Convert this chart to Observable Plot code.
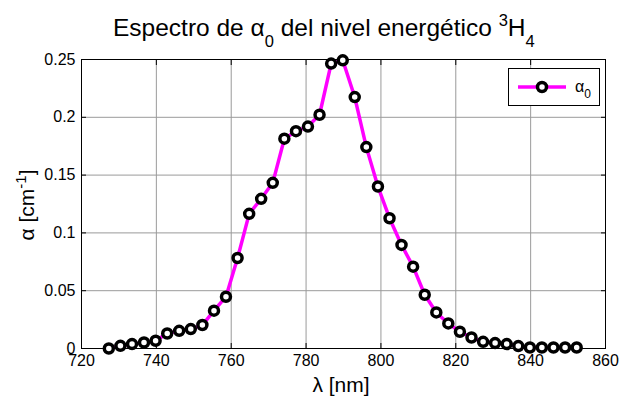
<!DOCTYPE html>
<html><head><meta charset="utf-8">
<script src="https://cdn.jsdelivr.net/npm/d3@7"></script>
<script src="https://cdn.jsdelivr.net/npm/@observablehq/plot@0.6"></script>
<style>
body{margin:0;background:#fff;}
#chart{position:relative;width:621px;height:400px;}
svg{font-family:"Liberation Sans",Arial,sans-serif;}
</style></head>
<body><div id="chart"></div>
<script>
const wavelength = [727.3,730.4,733.5,736.7,739.8,742.9,746.1,749.2,752.3,755.4,758.6,761.7,764.8,768.0,771.1,774.2,777.3,780.5,783.6,786.7,789.8,793.0,796.1,799.2,802.3,805.5,808.6,811.7,814.8,818.0,821.1,824.2,827.3,830.5,833.6,836.7,839.8,843.0,846.1,849.2,852.3];
const alpha0 = [0.000,0.0023,0.0038,0.0052,0.0067,0.013,0.0153,0.0168,0.0203,0.0327,0.0448,0.0783,0.1165,0.1295,0.1433,0.1815,0.188,0.192,0.2022,0.2465,0.2493,0.2175,0.1742,0.1401,0.1127,0.0896,0.0708,0.0465,0.0312,0.0217,0.0145,0.0095,0.0058,0.0047,0.0038,0.0021,0.0009,0.0009,0.0009,0.0009,0.0009];
const xTicks = [720,740,760,780,800,820,840,860];
const yTicks = [0,0.05,0.1,0.15,0.2,0.25];
const yTickLabels = ["0","0.05","0.1","0.15","0.2","0.25"];

const data = wavelength.map((w,i)=>({w, a: alpha0[i]}));

const plot = Plot.plot({
  width: 621, height: 400,
  marginLeft: 81, marginRight: 16, marginTop: 59, marginBottom: 52,
  style: {fontFamily: '"Liberation Sans",Arial,sans-serif', fontSize: "16px", color: "black", background: "white"},
  x: {domain: [720, 860]},
  y: {domain: [0, 0.25]},
  marks: [
    Plot.gridX(xTicks, {stroke: "#9a9a9a", strokeOpacity: 1}),
    Plot.gridY(yTicks, {stroke: "#9a9a9a", strokeOpacity: 1}),
    Plot.axisX(xTicks, {anchor: "bottom", tickSize: -5, tickPadding: 11, label: null, fontSize: 16, tickFormat: d => String(d)}),
    Plot.axisX(xTicks, {anchor: "top", tickSize: -5, label: null, tickFormat: () => ""}),
    Plot.axisY(yTicks, {anchor: "left", tickSize: -5, tickPadding: 11, label: null, fontSize: 16, tickFormat: d => yTickLabels[yTicks.indexOf(d)]}),
    Plot.axisY(yTicks, {anchor: "right", tickSize: -5, label: null, tickFormat: () => ""}),
    Plot.frame({stroke: "black", strokeWidth: 1}),
    Plot.line(data, {x: "w", y: "a", stroke: "#ff00ff", strokeWidth: 3.5}),
    Plot.dot(data, {x: "w", y: "a", r: 4.5, stroke: "black", strokeWidth: 3.5, fill: "white"})
  ]
});
document.getElementById("chart").appendChild(plot);

const svg = d3.select(plot);
const font = '"Liberation Sans",Arial,sans-serif';
// Title
const t = svg.append("text").attr("x", 113).attr("y", 36).attr("text-anchor","start").attr("font-size", 24.5).attr("font-family", font).attr("fill","black");
t.append("tspan").text("Espectro de α");
t.append("tspan").attr("dy", 11).attr("font-size", 16.5).text("0");
t.append("tspan").attr("dy", -11).text(" del nivel energético ");
t.append("tspan").attr("dy", -10).attr("font-size", 16.5).text("3");
t.append("tspan").attr("dy", 10).text("H");
t.append("tspan").attr("dy", 11).attr("font-size", 16.5).text("4");

// X label
svg.append("text").attr("x", 341).attr("y", 392).attr("text-anchor","middle").attr("font-size", 21).attr("font-family", font).text("λ [nm]");
// Y label
const yl = svg.append("text").attr("transform","translate(34,205) rotate(-90)").attr("text-anchor","middle").attr("font-size", 21).attr("font-family", font);
yl.append("tspan").text("α [cm");
yl.append("tspan").attr("dy", -8).attr("font-size", 15).text("-1");
yl.append("tspan").attr("dy", 8).text("]");

// Legend
const lg = svg.append("g");
lg.append("rect").attr("x", 508.5).attr("y", 68.5).attr("width", 91).attr("height", 37).attr("fill","white").attr("stroke","black");
lg.append("line").attr("x1", 518).attr("x2", 566).attr("y1", 87).attr("y2", 87).attr("stroke","#ff00ff").attr("stroke-width",3.5);
lg.append("circle").attr("cx", 542).attr("cy", 87).attr("r", 4.5).attr("fill","white").attr("stroke","black").attr("stroke-width",3.5);
const lt = lg.append("text").attr("x", 575).attr("y", 92).attr("text-anchor","start").attr("font-size", 16).attr("font-family", font);
lt.append("tspan").text("α");
lt.append("tspan").attr("dy", 6).attr("font-size", 12).text("0");
</script></body></html>
